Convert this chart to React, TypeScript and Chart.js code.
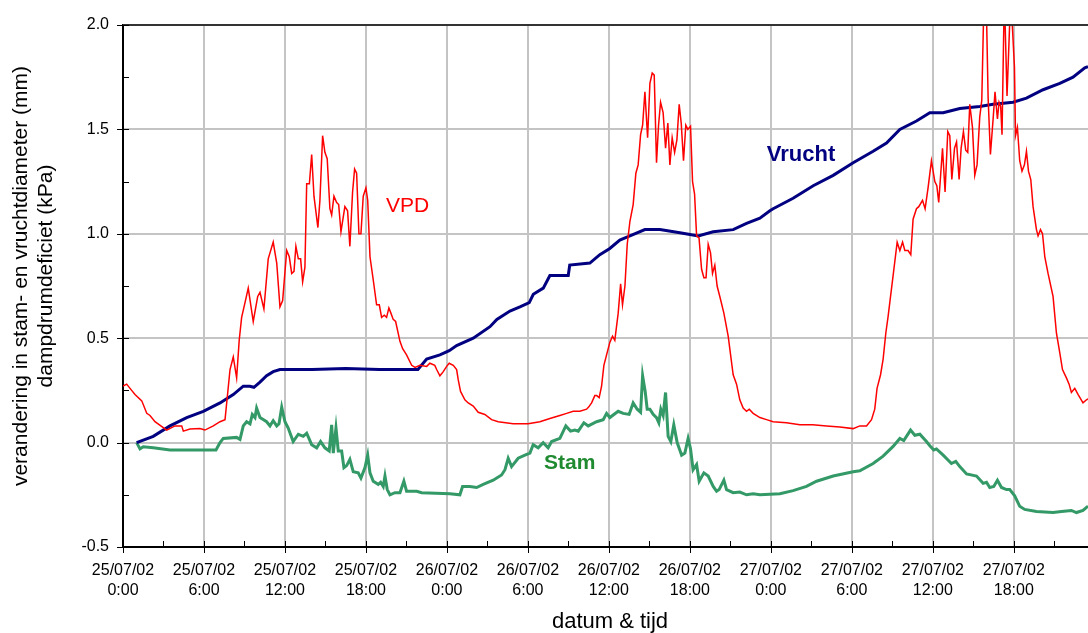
import { useEffect, useRef } from 'react';
import { Chart, registerables } from 'chart.js';

Chart.register(...registerables);

const FONT = "'Liberation Sans', Arial, sans-serif";

// x axis: hours since 25/07/02 0:00
const TICK_HOURS = [0, 6, 12, 18, 24, 30, 36, 42, 48, 54, 60, 66];
const TICK_DATES = ['25/07/02', '25/07/02', '25/07/02', '25/07/02', '26/07/02', '26/07/02', '26/07/02', '26/07/02', '27/07/02', '27/07/02', '27/07/02', '27/07/02'];
const TICK_TIMES = ['0:00', '6:00', '12:00', '18:00', '0:00', '6:00', '12:00', '18:00', '0:00', '6:00', '12:00', '18:00'];
const X_MIN = 0;
const X_MAX = 71.5;
const Y_MIN = -0.5;
const Y_MAX = 2.0;
const Y_STEP = 0.5;

const VPD_HOURS = [0, 0.27, 0.64, 0.89, 1.39, 1.76, 2.0, 2.37, 3.24, 3.85, 4.35, 4.47, 4.96, 5.7, 6.07, 6.69, 7.19, 7.56, 7.93, 8.17, 8.42, 8.61, 8.79, 9.04, 9.28, 9.65, 9.98, 10.15, 10.44, 10.76, 11.13, 11.39, 11.63, 11.83, 12.13, 12.32, 12.5, 12.67, 12.81, 12.99, 13.16, 13.31, 13.48, 13.61, 13.81, 13.98, 14.15, 14.44, 14.59, 14.79, 14.96, 15.13, 15.33, 15.46, 15.63, 15.83, 15.98, 16.15, 16.44, 16.64, 16.81, 17.01, 17.16, 17.31, 17.48, 17.63, 17.8, 18.0, 18.13, 18.3, 18.54, 18.79, 18.99, 19.16, 19.36, 19.53, 19.7, 19.85, 20.02, 20.2, 20.52, 20.72, 21.01, 21.39, 21.64, 22.0, 22.5, 22.74, 23.1, 23.24, 23.48, 23.73, 23.98, 24.17, 24.47, 24.72, 24.84, 25.01, 25.33, 25.58, 25.95, 26.32, 26.81, 27.31, 27.8, 28.91, 30.02, 30.89, 31.63, 32.37, 32.87, 33.36, 33.85, 34.35, 34.5, 34.72, 34.96, 35.1, 35.28, 35.46, 35.63, 35.83, 36.07, 36.27, 36.44, 36.69, 36.87, 37.01, 37.19, 37.36, 37.56, 37.8, 38.0, 38.17, 38.35, 38.5, 38.67, 38.87, 39.04, 39.21, 39.36, 39.53, 39.68, 39.83, 40.02, 40.2, 40.37, 40.52, 40.69, 40.87, 41.04, 41.21, 41.36, 41.53, 41.7, 41.85, 42.05, 42.2, 42.35, 42.5, 42.68, 42.87, 43.04, 43.2, 43.36, 43.53, 43.68, 43.85, 44.02, 44.22, 44.52, 44.84, 45.21, 45.46, 45.7, 45.95, 46.2, 46.4, 46.69, 47.19, 47.68, 48.17, 49.16, 50.15, 51.1, 52.13, 53.11, 54.1, 54.59, 55.09, 55.46, 55.7, 55.87, 56.13, 56.32, 56.52, 56.69, 56.87, 57.06, 57.36, 57.56, 57.76, 57.93, 58.17, 58.37, 58.54, 58.79, 58.96, 59.24, 59.43, 59.65, 59.9, 60.15, 60.3, 60.44, 60.72, 60.91, 61.11, 61.26, 61.41, 61.61, 61.76, 61.95, 62.1, 62.27, 62.44, 62.59, 62.74, 62.94, 63.11, 63.28, 63.48, 63.63, 63.8, 63.95, 64.1, 64.27, 64.47, 64.61, 64.79, 64.91, 65.03, 65.13, 65.3, 65.5, 65.75, 65.9, 66.05, 66.13, 66.27, 66.44, 66.61, 66.79, 66.94, 67.09, 67.26, 67.43, 67.68, 67.8, 67.98, 68.13, 68.3, 68.54, 68.91, 69.16, 69.41, 69.61, 69.9, 70.1, 70.27, 70.52, 70.77, 71.13, 71.39, 71.5];
const VPD_KPA = [0.27, 0.28, 0.25, 0.23, 0.2, 0.14, 0.13, 0.1, 0.06, 0.08, 0.08, 0.055, 0.065, 0.067, 0.06, 0.08, 0.1, 0.11, 0.35, 0.41, 0.31, 0.49, 0.6, 0.67, 0.74, 0.58, 0.7, 0.72, 0.64, 0.88, 0.96, 0.86, 0.65, 0.68, 0.92, 0.89, 0.81, 0.82, 0.94, 0.88, 0.88, 0.77, 0.84, 1.24, 1.24, 1.38, 1.18, 1.03, 1.16, 1.47, 1.39, 1.36, 1.12, 1.09, 1.18, 1.15, 1.14, 1.01, 1.13, 1.11, 0.94, 1.2, 1.31, 1.29, 1.0, 1.0, 1.18, 1.22, 1.16, 0.89, 0.78, 0.66, 0.66, 0.6, 0.61, 0.6, 0.645, 0.62, 0.59, 0.58, 0.485, 0.45, 0.42, 0.37, 0.36, 0.37, 0.365, 0.38, 0.37, 0.35, 0.32, 0.34, 0.365, 0.38, 0.37, 0.35, 0.3, 0.245, 0.205, 0.19, 0.175, 0.145, 0.135, 0.11, 0.1, 0.09, 0.09, 0.1, 0.115, 0.13, 0.14, 0.15, 0.15, 0.16, 0.17, 0.19, 0.225, 0.225, 0.215, 0.27, 0.37, 0.42, 0.48, 0.51, 0.49, 0.62, 0.76, 0.66, 0.75, 0.95, 1.06, 1.14, 1.29, 1.33, 1.475, 1.52, 1.68, 1.46, 1.72, 1.77, 1.76, 1.34, 1.52, 1.63, 1.58, 1.41, 1.53, 1.33, 1.46, 1.39, 1.45, 1.62, 1.53, 1.35, 1.52, 1.5, 1.515, 1.25, 1.19, 0.99, 0.98, 0.83, 0.79, 0.79, 0.95, 0.91, 0.81, 0.85, 0.75, 0.7, 0.62, 0.51, 0.325, 0.28, 0.205, 0.165, 0.15, 0.16, 0.14, 0.12, 0.11, 0.1, 0.095, 0.085, 0.085, 0.08, 0.075, 0.067, 0.08, 0.08, 0.11, 0.16, 0.26, 0.325, 0.4, 0.525, 0.605, 0.7, 0.8, 0.96, 0.92, 0.96, 0.92, 0.92, 0.9, 1.07, 1.12, 1.13, 1.16, 1.12, 1.22, 1.35, 1.25, 1.23, 1.15, 1.41, 1.2, 1.49, 1.47, 1.26, 1.41, 1.44, 1.26, 1.41, 1.49, 1.4, 1.39, 1.62, 1.51, 1.28, 1.33, 1.56, 1.64, 2.15, 2.15, 1.65, 1.38, 1.55, 1.68, 1.55, 1.63, 1.61, 1.475, 2.15, 1.66, 2.1, 1.99, 1.8, 1.47, 1.51, 1.35, 1.3, 1.33, 1.395, 1.3, 1.26, 1.13, 1.02, 0.99, 1.02, 1.0, 0.89, 0.81, 0.7, 0.525, 0.43, 0.35, 0.31, 0.28, 0.24, 0.26, 0.23, 0.19, 0.205, 0.21];

const VRUCHT_HOURS = [1.01, 2.24, 3.48, 4.72, 5.95, 7.19, 8.17, 8.91, 9.4, 9.7, 10.15, 10.64, 11.13, 11.63, 14.0, 16.5, 19.0, 21.85, 22.5, 23.48, 24.17, 24.72, 25.95, 27.19, 27.7, 28.67, 29.41, 30.1, 30.4, 31.14, 31.63, 32.99, 33.1, 34.59, 35.33, 36.07, 36.81, 37.56, 38.67, 39.78, 41.26, 42.12, 42.62, 43.73, 45.21, 46.2, 47.19, 47.93, 48.17, 49.65, 51.14, 52.62, 54.1, 55.58, 56.57, 57.56, 58.79, 59.78, 60.77, 62.0, 63.48, 64.47, 65.95, 66.94, 68.17, 69.41, 70.39, 71.26, 71.5];
const VRUCHT_MM = [0.0, 0.03, 0.08, 0.12, 0.15, 0.19, 0.23, 0.27, 0.27, 0.265, 0.29, 0.32, 0.34, 0.35, 0.35, 0.355, 0.35, 0.35, 0.4, 0.42, 0.44, 0.465, 0.5, 0.555, 0.59, 0.63, 0.65, 0.67, 0.71, 0.74, 0.8, 0.8, 0.85, 0.86, 0.9, 0.93, 0.97, 0.99, 1.02, 1.02, 1.005, 0.995, 0.99, 1.01, 1.02, 1.05, 1.075, 1.11, 1.12, 1.17, 1.23, 1.28, 1.34, 1.395, 1.435, 1.5, 1.54, 1.58, 1.58, 1.6, 1.61, 1.62, 1.63, 1.65, 1.69, 1.72, 1.75, 1.795, 1.8];

const STAM_HOURS = [1.01, 1.26, 1.5, 2.24, 3.48, 5.0, 6.89, 7.19, 7.43, 8.42, 8.67, 8.91, 9.16, 9.41, 9.58, 9.78, 9.9, 10.15, 10.64, 10.89, 11.13, 11.39, 11.56, 11.76, 12.0, 12.24, 12.61, 12.99, 13.36, 13.61, 13.98, 14.35, 14.64, 14.96, 15.28, 15.46, 15.58, 15.78, 15.95, 16.2, 16.37, 16.57, 16.81, 17.06, 17.43, 17.63, 17.93, 18.13, 18.3, 18.54, 18.91, 19.09, 19.28, 19.41, 19.58, 19.78, 20.15, 20.52, 20.81, 21.01, 21.76, 22.13, 24.22, 24.96, 25.16, 25.7, 26.2, 26.69, 27.43, 28.05, 28.3, 28.54, 28.79, 29.28, 29.78, 30.15, 30.39, 30.76, 31.13, 31.5, 31.76, 32.37, 32.81, 33.16, 33.48, 33.73, 34.15, 34.47, 35.09, 35.58, 35.83, 36.07, 36.69, 37.06, 37.5, 37.8, 38.1, 38.35, 38.5, 38.69, 38.84, 39.04, 39.28, 39.53, 39.7, 39.85, 40.02, 40.2, 40.39, 40.59, 40.81, 41.06, 41.39, 41.63, 41.87, 42.05, 42.24, 42.5, 42.69, 43.04, 43.36, 43.73, 43.98, 44.17, 44.52, 44.72, 45.21, 45.7, 46.2, 46.69, 47.19, 48.67, 49.65, 50.64, 51.39, 52.62, 54.1, 54.59, 55.58, 56.32, 57.06, 57.56, 57.85, 58.35, 58.67, 59.04, 59.53, 59.78, 60.07, 60.27, 60.77, 61.38, 61.7, 62.0, 62.5, 63.24, 63.73, 63.98, 64.22, 64.52, 64.79, 65.09, 65.46, 65.7, 66.07, 66.44, 66.81, 67.68, 68.91, 69.53, 70.27, 70.64, 71.13, 71.39, 71.5];
const STAM_MM = [0.0, -0.03, -0.02, -0.025, -0.035, -0.035, -0.035, 0.0, 0.02, 0.025, 0.015, 0.08, 0.1, 0.09, 0.135, 0.12, 0.165, 0.12, 0.1, 0.08, 0.105, 0.08, 0.09, 0.17, 0.1, 0.07, 0.005, 0.04, 0.03, 0.045, -0.01, -0.025, 0.005, -0.025, -0.04, 0.085, -0.05, 0.07, -0.04, -0.04, -0.12, -0.11, -0.08, -0.14, -0.145, -0.17, -0.12, -0.06, -0.145, -0.185, -0.2, -0.19, -0.21, -0.16, -0.225, -0.25, -0.24, -0.24, -0.185, -0.233, -0.233, -0.24, -0.245, -0.25, -0.21, -0.21, -0.215, -0.2, -0.18, -0.155, -0.13, -0.075, -0.115, -0.075, -0.06, -0.05, -0.01, -0.025, 0.0, -0.025, 0.005, 0.02, 0.08, 0.055, 0.06, 0.055, 0.095, 0.08, 0.1, 0.11, 0.14, 0.12, 0.15, 0.14, 0.135, 0.19, 0.16, 0.145, 0.32, 0.245, 0.16, 0.16, 0.135, 0.12, 0.095, 0.16, 0.13, 0.24, 0.03, 0.005, 0.085, 0.0, -0.06, -0.05, 0.02, -0.03, -0.13, -0.105, -0.185, -0.145, -0.16, -0.21, -0.233, -0.225, -0.18, -0.225, -0.24, -0.237, -0.25, -0.245, -0.25, -0.245, -0.23, -0.21, -0.185, -0.16, -0.14, -0.135, -0.1, -0.065, -0.018, 0.02, 0.01, 0.06, 0.035, 0.04, 0.005, -0.015, -0.035, -0.03, -0.06, -0.1, -0.09, -0.115, -0.15, -0.16, -0.195, -0.19, -0.215, -0.21, -0.18, -0.215, -0.225, -0.225, -0.255, -0.305, -0.32, -0.33, -0.335, -0.33, -0.325, -0.335, -0.325, -0.31, -0.305];

const Y_TITLE_LINES = ['verandering in stam- en vruchtdiameter (mm)', 'dampdrumdeficiet (kPa)'];
const X_TITLE = 'datum & tijd';

const zip = (xs: number[], ys: number[]) => xs.map((x, i) => ({ x, y: ys[i] }));

const decor = {
  id: 'decor',
  afterDatasetsDraw(chart: any) {
    const { ctx, chartArea: a, scales } = chart;
    const xs = scales.x;
    const ys = scales.y;
    ctx.save();
    // top frame line
    ctx.strokeStyle = '#333333';
    ctx.lineWidth = 2;
    ctx.beginPath();
    ctx.moveTo(a.left, a.top);
    ctx.lineTo(a.right, a.top);
    ctx.stroke();

    // tick marks
    ctx.strokeStyle = '#000';
    ctx.lineWidth = 1;
    ctx.beginPath();
    TICK_HOURS.forEach((h) => {
      const px = Math.round(xs.getPixelForValue(h)) + 0.5;
      ctx.moveTo(px, a.bottom - 6);
      ctx.lineTo(px, a.bottom + 6);
      const mh = h + 3;
      if (mh <= X_MAX) {
        const mx = Math.round(xs.getPixelForValue(mh)) + 0.5;
        ctx.moveTo(mx, a.bottom - 6);
        ctx.lineTo(mx, a.bottom);
      }
    });
    for (let v = Y_MIN; v <= Y_MAX + 1e-9; v += Y_STEP) {
      const py = Math.round(ys.getPixelForValue(v)) + 0.5;
      ctx.moveTo(a.left - 6, py);
      ctx.lineTo(a.left + 6, py);
      const mv = v + Y_STEP / 2;
      if (mv < Y_MAX) {
        const my = Math.round(ys.getPixelForValue(mv)) + 0.5;
        ctx.moveTo(a.left, my);
        ctx.lineTo(a.left + 6, my);
      }
    }
    ctx.stroke();

    // series labels
    ctx.textBaseline = 'middle';
    ctx.textAlign = 'left';
    ctx.fillStyle = '#ff0000';
    ctx.font = `21px ${FONT}`;
    ctx.fillText('VPD', xs.getPixelForValue(19.48), ys.getPixelForValue(1.13));
    ctx.fillStyle = '#000080';
    ctx.font = `bold 22px ${FONT}`;
    ctx.fillText('Vrucht', xs.getPixelForValue(47.7), ys.getPixelForValue(1.38));
    ctx.fillStyle = '#1f8a2f';
    ctx.font = `bold 21px ${FONT}`;
    ctx.fillText('Stam', xs.getPixelForValue(31.19), ys.getPixelForValue(-0.1));

    // axis titles
    ctx.fillStyle = '#000';
    ctx.textAlign = 'center';
    ctx.font = `21px ${FONT}`;
    const cy = 276;
    [21, 46].forEach((cx, i) => {
      ctx.save();
      ctx.translate(cx, cy);
      ctx.rotate(-Math.PI / 2);
      ctx.fillText(Y_TITLE_LINES[i], 0, 0);
      ctx.restore();
    });
    ctx.font = `22px ${FONT}`;
    ctx.fillText(X_TITLE, 610, 622);
    ctx.restore();
  },
};

export default function App() {
  const ref = useRef<HTMLCanvasElement>(null);
  useEffect(() => {
    if (!ref.current) return;
    const chart = new Chart(ref.current, {
      type: 'line',
      data: {
        datasets: [
          { label: 'VPD', data: zip(VPD_HOURS, VPD_KPA), borderColor: '#ff0000', borderWidth: 1.5, pointRadius: 0, tension: 0, clip: 0 } as any,
          { label: 'Vrucht', data: zip(VRUCHT_HOURS, VRUCHT_MM), borderColor: '#000080', borderWidth: 3, pointRadius: 0, tension: 0, clip: 0 } as any,
          { label: 'Stam', data: zip(STAM_HOURS, STAM_MM), borderColor: '#339966', borderWidth: 3, pointRadius: 0, tension: 0, clip: 0 } as any,
        ],
      },
      options: {
        animation: false,
        responsive: false,
        devicePixelRatio: 1,
        parsing: false,
        layout: { padding: { top: 25, left: 0, right: 0, bottom: 0 } },
        plugins: { legend: { display: false }, tooltip: { enabled: false } },
        scales: {
          x: {
            type: 'linear',
            min: X_MIN,
            max: X_MAX,
            afterBuildTicks: (s: any) => {
              s.ticks = TICK_HOURS.map((v) => ({ value: v }));
            },
            afterFit: (s: any) => {
              s.height = 86;
            },
            ticks: {
              autoSkip: false,
              maxRotation: 0,
              padding: 14,
              color: '#000',
              font: { family: FONT, size: 16, lineHeight: 1.25 },
              callback: (v: any) => {
                const i = TICK_HOURS.indexOf(Number(v));
                return [TICK_DATES[i], TICK_TIMES[i]];
              },
            },
            grid: { color: '#c4c4c4', lineWidth: 2, drawTicks: false },
            border: { color: '#000', width: 2 },
          },
          y: {
            type: 'linear',
            min: Y_MIN,
            max: Y_MAX,
            afterFit: (s: any) => {
              s.width = 123;
            },
            ticks: {
              stepSize: Y_STEP,
              padding: 14,
              color: '#000',
              font: { family: FONT, size: 16 },
              callback: (v: any) => Number(v).toFixed(1),
            },
            grid: { color: '#c4c4c4', lineWidth: 2, drawTicks: false },
            border: { color: '#000', width: 2 },
          },
        } as any,
      },
      plugins: [decor],
    });
    return () => chart.destroy();
  }, []);
  return (
    <div style={{ position: 'fixed', left: 0, top: 0, width: 1088, height: 633, background: '#fff' }}>
      <canvas ref={ref} width={1088} height={633} style={{ display: 'block' }} />
    </div>
  );
}
